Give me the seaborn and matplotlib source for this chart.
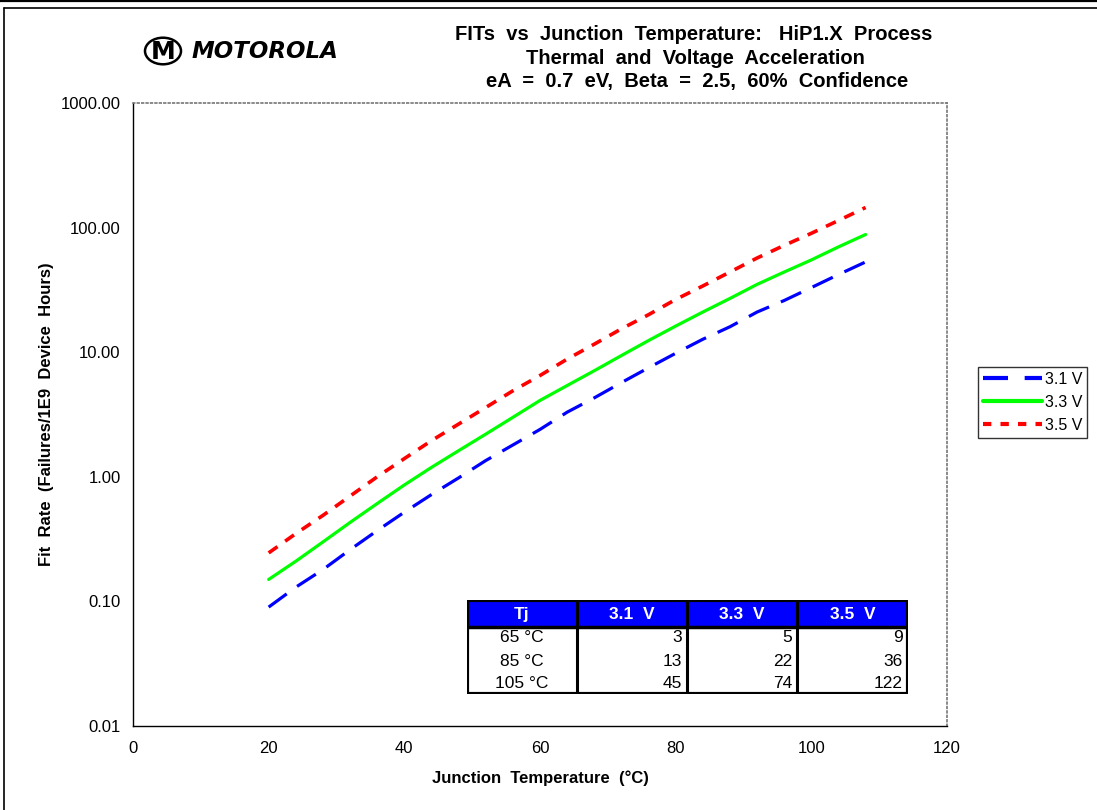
import matplotlib
matplotlib.use('Agg')
import matplotlib.pyplot as plt
import seaborn as sns
import pandas as pd
from matplotlib.patches import Circle, Rectangle
from matplotlib.lines import Line2D
from matplotlib.ticker import FixedLocator, FuncFormatter, NullLocator

# junction temperature (C) and FIT rates
temps = [20, 24, 28, 32, 36, 40, 44, 48, 52, 56, 60, 64, 68, 72, 76, 80, 84, 88, 92, 96, 100, 104, 108]
fit_31 = [0.09, 0.13, 0.18, 0.26, 0.37, 0.52, 0.72, 0.98, 1.35, 1.8, 2.4, 3.3, 4.3, 5.7, 7.5, 9.8,
          12.7, 16, 21, 26, 33, 42, 53]
fit_33 = [0.15, 0.21, 0.30, 0.43, 0.61, 0.86, 1.19, 1.62, 2.2, 3.0, 4.1, 5.4, 7.1, 9.4, 12.4, 16.2,
          21, 27, 35, 44, 55, 70, 88]
fit_35 = [0.245, 0.35, 0.49, 0.70, 1.0, 1.40, 1.95, 2.65, 3.6, 4.9, 6.5, 8.8, 11.6, 15.4, 20, 26.5,
          34, 44, 57, 72, 90, 114, 145]

# summary table
table_header = ['Tj', '3.1  V', '3.3  V', '3.5  V']
table_temps = ['65 °C', '85 °C', '105 °C']
table_31 = [3, 13, 45]
table_33 = [5, 22, 74]
table_35 = [9, 36, 122]

sns.set_style('white')
plt.rcParams['font.family'] = ['Liberation Sans', 'DejaVu Sans']
plt.rcParams['text.color'] = 'black'
plt.rcParams['axes.labelcolor'] = 'black'

W, H = 1097, 810
fig = plt.figure(figsize=(W / 100, H / 100), dpi=100)


def fx(px):
    return px / W


def fy(py):
    return 1 - py / H


ax = fig.add_axes([fx(133), fy(726), fx(947) - fx(133), fy(103) - fy(726)])

sns.lineplot(x=temps, y=fit_31, ax=ax, color='#0000FF', linewidth=2.3, label='3.1 V')
sns.lineplot(x=temps, y=fit_33, ax=ax, color='#00FF00', linewidth=2.3, label='3.3 V')
sns.lineplot(x=temps, y=fit_35, ax=ax, color='#FF0000', linewidth=2.6, label='3.5 V')
ax.lines[0].set_dashes((7, 4))
ax.lines[2].set_dashes((3, 2.6))
ax.get_legend().remove()

ax.set_yscale('log')
ax.set_ylim(0.01, 1000)
ax.set_xlim(0, 120)
ax.xaxis.set_major_locator(FixedLocator([0, 20, 40, 60, 80, 100, 120]))
ax.yaxis.set_major_locator(FixedLocator([0.01, 0.1, 1, 10, 100, 1000]))
ax.yaxis.set_minor_locator(NullLocator())
ax.yaxis.set_major_formatter(FuncFormatter(lambda v, p: f'{v:.2f}'))
ax.tick_params(axis='x', direction='inout', length=8, width=0.8, labelsize=12, pad=7, colors='black')
ax.tick_params(axis='y', direction='out', length=6, width=0.8, labelsize=12, pad=3, colors='black')

for s in ['top', 'right']:
    ax.spines[s].set_color('#777777')
    ax.spines[s].set_linestyle(':')
    ax.spines[s].set_linewidth(1.2)
for s in ['left', 'bottom']:
    ax.spines[s].set_color('black')
    ax.spines[s].set_linewidth(1.0)

ax.set_xlabel('Junction  Temperature  (°C)', fontsize=12, fontweight='bold', labelpad=10)
ax.set_ylabel('Fit  Rate  (Failures/1E9  Device  Hours)', fontsize=12, fontweight='bold', labelpad=5)

# title block
fig.text(fx(694), fy(34), 'FITs  vs  Junction  Temperature:   HiP1.X  Process', ha='center', va='center',
         fontsize=14.5, fontweight='bold')
fig.text(fx(695), fy(58), 'Thermal  and  Voltage  Acceleration', ha='center', va='center',
         fontsize=14.5, fontweight='bold')
fig.text(fx(697), fy(82), 'eA  =  0.7  eV,  Beta  =  2.5,  60%  Confidence', ha='center', va='center',
         fontsize=14.5, fontweight='bold')

# logo
fig.patches.append(Circle((fx(163), fy(51)), 18 / W, transform=fig.transFigure, fill=False,
                          edgecolor='black', linewidth=1.8))
fig.text(fx(163), fy(52), 'M', ha='center', va='center', fontsize=18, fontweight='bold',
         family=['DejaVu Sans'])
fig.text(fx(192), fy(52), 'MOTOROLA', ha='left', va='center', fontsize=16.5, fontweight='heavy',
         style='italic', family=['DejaVu Sans'])

# legend
handles = [Line2D([], [], color='#0000FF', linewidth=3, dashes=(6, 4)),
           Line2D([], [], color='#00FF00', linewidth=3),
           Line2D([], [], color='#FF0000', linewidth=3, dashes=(2, 2.2))]
leg = fig.legend(handles, ['3.1 V', '3.3 V', '3.5 V'], loc='upper left',
                 bbox_to_anchor=(fx(978), fy(367)), frameon=True, fancybox=False,
                 fontsize=11.5, handlelength=3.7, handletextpad=0.2, labelspacing=0.5,
                 borderpad=0.3, borderaxespad=0)
leg.get_frame().set_edgecolor('black')
leg.get_frame().set_linewidth(1.0)

# table drawn in pixel units
tx0, ty0, tw, th = 467, 600, 441, 94
tax = fig.add_axes([fx(tx0), fy(ty0 + th), tw / W, th / H])
tax.set_xlim(0, tw)
tax.set_ylim(th, 0)
tax.axis('off')
col_edges = [0, 110, 220, 330, 441]
head_h = 27
tax.add_patch(Rectangle((0, 0), tw, head_h, facecolor='#0000FF', edgecolor='none'))
tax.add_patch(Rectangle((0, 0), tw, th, facecolor='none', edgecolor='black', linewidth=3))
tax.plot([0, tw], [head_h, head_h], color='black', linewidth=2.5)
for ce in col_edges[1:-1]:
    tax.plot([ce, ce], [0, th], color='black', linewidth=2.2)
for i, h in enumerate(table_header):
    tax.text((col_edges[i] + col_edges[i + 1]) / 2, head_h / 2 + 1, h, ha='center', va='center',
             color='white', fontsize=12.5, fontweight='bold')
rows = list(zip(table_temps, table_31, table_33, table_35))
for r, row in enumerate(rows):
    yc = head_h + 11 + r * 23
    tax.text((col_edges[0] + col_edges[1]) / 2, yc, row[0], ha='center', va='center', fontsize=12.5)
    for c in range(1, 4):
        tax.text(col_edges[c + 1] - 5, yc, str(row[c]), ha='right', va='center', fontsize=12.5)

# outer page frame
fig.lines.append(Line2D([0, 1], [fy(1), fy(1)], transform=fig.transFigure, color='black', linewidth=1.6))
fig.lines.append(Line2D([fx(4), 1], [fy(7.5), fy(7.5)], transform=fig.transFigure, color='black', linewidth=1.2))
fig.lines.append(Line2D([fx(4), fx(4)], [fy(7.5), 0], transform=fig.transFigure, color='black', linewidth=1.2))

fig.savefig('out.png', dpi=100)
